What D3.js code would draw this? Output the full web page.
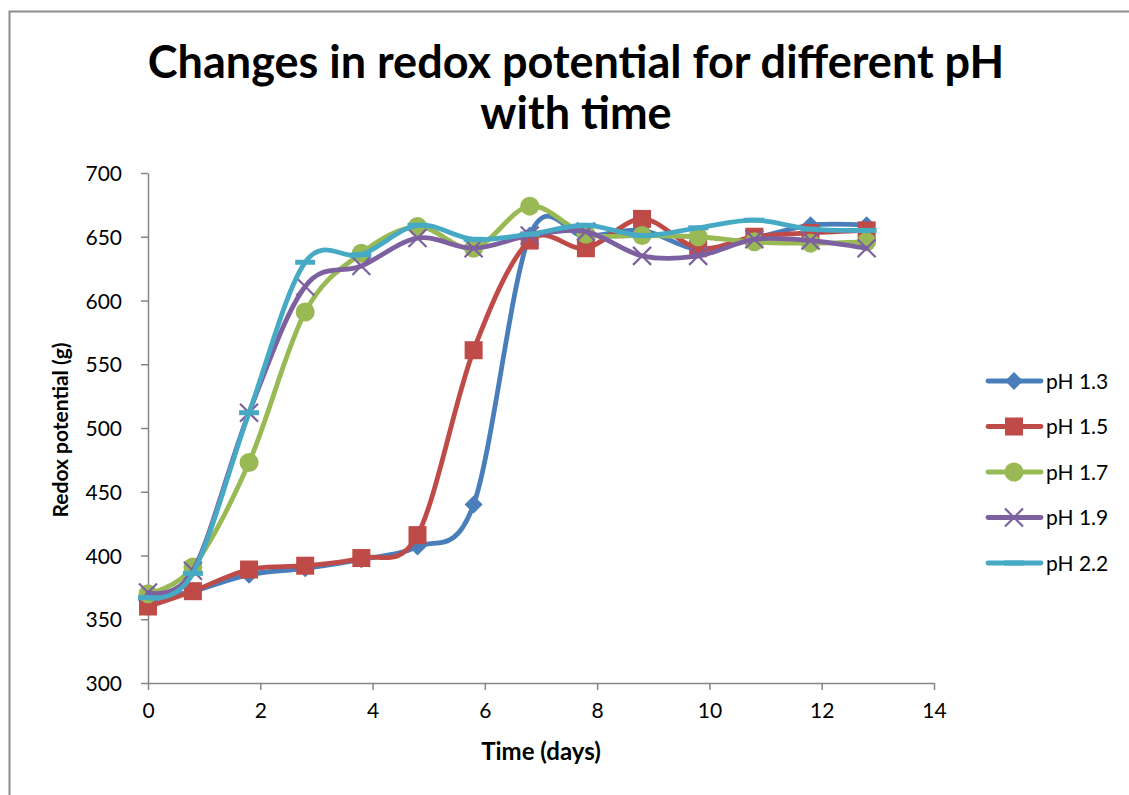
<!DOCTYPE html>
<html>
<head>
<meta charset="utf-8">
<script src="https://cdn.jsdelivr.net/npm/d3@7/dist/d3.min.js"></script>
<style>
  html, body { margin: 0; padding: 0; background: #fff; }
  svg { display: block; }
  text { font-family: Lato, "Open Sans", sans-serif; fill: #000; }
</style>
</head>
<body>
<svg id="chart" width="1129" height="795"></svg>
<script>
// Sampling days
const days = [0, 0.8, 1.8, 2.8, 3.8, 4.8, 5.8, 6.8, 7.8, 8.8, 9.8, 10.8, 11.8, 12.8];

// Redox potential per pH level
const ph13 = [365, 372, 385, 390, 397, 407, 440, 651, 650, 655, 640, 649, 659, 659];
const ph15 = [360, 372, 389, 392, 398, 416, 561, 647, 641, 664, 641, 650, 653, 655];
const ph17 = [370, 391, 473, 591, 637, 658, 641, 674, 652, 651, 650, 646, 645, 646];
const ph19 = [371, 388, 512, 611, 627, 649, 641, 651, 654, 635, 635, 648, 647, 641];
const ph22 = [367, 386, 512, 630, 636, 659, 648, 652, 659, 651, 657, 663, 656, 655];

const seriesNames = ["pH 1.3", "pH 1.5", "pH 1.7", "pH 1.9", "pH 2.2"];
const seriesValues = [ph13, ph15, ph17, ph19, ph22];
const seriesColors = ["#4A7EBB", "#BE4B48", "#98B954", "#7D60A0", "#46AAC5"];
const seriesMarkers = ["diamond", "square", "circle", "cross", "dash"];

const xTicks = [0, 2, 4, 6, 8, 10, 12, 14];
const yTicks = [300, 350, 400, 450, 500, 550, 600, 650, 700];

const titleLines = ["Changes in redox potential for different pH", "with time"];
const xTitle = "Time (days)";
const yTitle = "Redox potential (g)";

const svg = d3.select("#chart");

// outer chart frame
svg.append("rect")
  .attr("x", 9.5).attr("y", 11.5)
  .attr("width", 1140).attr("height", 800)
  .attr("fill", "none").attr("stroke", "#8c8c8c").attr("stroke-width", 2);

const plot = { left: 148, right: 934, top: 173, bottom: 683 };

const x = d3.scaleLinear().domain([0, 14]).range([plot.left, plot.right]);
const y = d3.scaleLinear().domain([300, 700]).range([plot.bottom, plot.top]);

// title
svg.append("g").selectAll("text").data(titleLines).join("text")
  .attr("x", 576)
  .attr("y", (d, i) => 78 + i * 51)
  .attr("text-anchor", "middle")
  .attr("font-weight", "bold")
  .attr("font-size", 45)
  .text(d => d);

// axes
const axisColor = "#868686";
const xAxis = svg.append("g")
  .attr("transform", `translate(0,${plot.bottom})`)
  .call(d3.axisBottom(x).tickValues(xTicks).tickSize(7).tickSizeOuter(0).tickPadding(6));
const yAxis = svg.append("g")
  .attr("transform", `translate(${plot.left},0)`)
  .call(d3.axisLeft(y).tickValues(yTicks).tickSize(7).tickSizeOuter(0).tickPadding(19));

[xAxis, yAxis].forEach(a => {
  a.select(".domain").attr("stroke", axisColor).attr("stroke-width", 1.5);
  a.selectAll(".tick line").attr("stroke", axisColor).attr("stroke-width", 1.5);
  a.selectAll(".tick text")
    .attr("font-family", "Lato, sans-serif")
    .attr("font-size", 21)
    .attr("fill", "#222");
});
xAxis.selectAll(".tick text").attr("dy", "1.05em");
yAxis.selectAll(".tick text").attr("dy", "0.36em");

// axis titles
svg.append("text")
  .attr("x", 541).attr("y", 760)
  .attr("text-anchor", "middle")
  .attr("font-weight", "bold")
  .attr("font-size", 24)
  .text(xTitle);

svg.append("text")
  .attr("transform", "translate(68,430) rotate(-90)")
  .attr("text-anchor", "middle")
  .attr("font-weight", "bold")
  .attr("font-size", 21)
  .text(yTitle);

// marker shapes
function drawMarker(g, type, color, cx, cy) {
  if (type === "diamond") {
    g.append("path")
      .attr("d", `M${cx},${cy - 9}L${cx + 9},${cy}L${cx},${cy + 9}L${cx - 9},${cy}Z`)
      .attr("fill", color);
  } else if (type === "square") {
    g.append("rect")
      .attr("x", cx - 9).attr("y", cy - 9).attr("width", 18).attr("height", 18)
      .attr("fill", color);
  } else if (type === "circle") {
    g.append("circle").attr("cx", cx).attr("cy", cy).attr("r", 9.5).attr("fill", color);
  } else if (type === "cross") {
    g.append("path")
      .attr("d", `M${cx - 9},${cy - 9}L${cx + 9},${cy + 9}M${cx - 9},${cy + 9}L${cx + 9},${cy - 9}`)
      .attr("stroke", color).attr("stroke-width", 2.2).attr("fill", "none");
  } else if (type === "dash") {
    g.append("rect")
      .attr("x", cx - 10).attr("y", cy - 2.5).attr("width", 20).attr("height", 5)
      .attr("fill", color);
  }
}

const line = d3.line()
  .x(d => x(d[0]))
  .y(d => y(d[1]))
  .curve(d3.curveCardinal.tension(0));

// series
seriesValues.forEach((vals, i) => {
  const pts = days.map((d, j) => [d, vals[j]]);
  const g = svg.append("g");
  g.append("path")
    .datum(pts)
    .attr("d", line)
    .attr("fill", "none")
    .attr("stroke", seriesColors[i])
    .attr("stroke-width", 4.8)
    .attr("stroke-linejoin", "round")
    .attr("stroke-linecap", "round");
  pts.forEach(p => drawMarker(g, seriesMarkers[i], seriesColors[i], x(p[0]), y(p[1])));
});

// legend
const legend = svg.append("g");
seriesNames.forEach((name, i) => {
  const ly = 381 + i * 45.5;
  const g = legend.append("g");
  g.append("line")
    .attr("x1", 988).attr("x2", 1041).attr("y1", ly).attr("y2", ly)
    .attr("stroke", seriesColors[i]).attr("stroke-width", 4.8).attr("stroke-linecap", "round");
  drawMarker(g, seriesMarkers[i], seriesColors[i], 1014, ly);
  g.append("text")
    .attr("x", 1046).attr("y", ly)
    .attr("dy", "0.36em")
    .attr("font-size", 21)
    .attr("fill", "#222")
    .text(name);
});
</script>
</body>
</html>
